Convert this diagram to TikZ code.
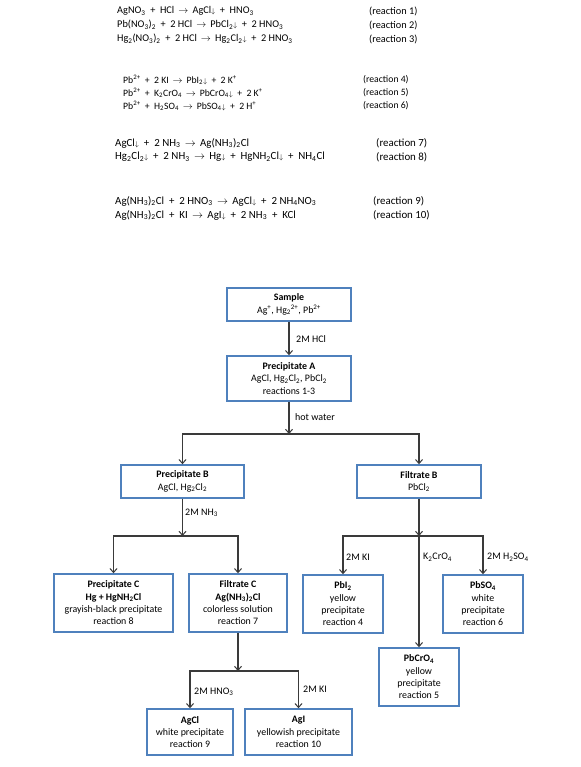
\documentclass[tikz,border=0pt]{standalone}
\usepackage{fontspec}
\setmainfont{Carlito}
\usetikzlibrary{arrows.meta}
\definecolor{boxblue}{HTML}{4F81BD}
\definecolor{linegray}{HTML}{3A3A3A}
\newcommand\chsub[1]{\textsubscript{#1}}
\newcommand\chsup[1]{\textsuperscript{#1}}
\newcommand\dn{{\scriptsize$\downarrow$}}
\newcommand\ra{\hspace{0.4em}$\rightarrow$\hspace{0.4em}}
\newcommand\pl{\hspace{0.45em}+\hspace{0.45em}}
\begin{document}
\begin{tikzpicture}[x=1pt,y=-1pt,
  rxn/.style={anchor=west,inner sep=0pt,font=\fontsize{10.3}{12}\selectfont},
  rxnb/.style={anchor=west,inner sep=0pt,font=\fontsize{9.7}{11}\selectfont},
  rxnc/.style={anchor=west,inner sep=0pt,font=\fontsize{10.9}{12}\selectfont},
  box/.style={draw=boxblue,line width=1.5pt,fill=white,align=center,inner sep=0pt,
    font=\fontsize{9.9}{12.3}\selectfont},
  conn/.style={draw=linegray,line width=1.2pt},
  arr/.style={conn,-{Straight Barb[length=4pt,width=7pt,line width=1pt]}},
  lbl/.style={anchor=west,inner sep=0pt,font=\fontsize{10}{12}\selectfont}]
\useasboundingbox (0,0) rectangle (580,767);

% reactions block 1
\node[rxn] (r1) at (117,11) {AgNO\chsub{3}\pl HCl\ra AgCl\dn\pl HNO\chsub{3}};
\node[rxn] (r2) at (117,25) {Pb(NO\chsub{3})\chsub{2}\pl 2 HCl\ra PbCl\chsub{2}\dn\pl 2 HNO\chsub{3}};
\node[rxn] (r3) at (117,39) {Hg\chsub{2}(NO\chsub{3})\chsub{2}\pl 2 HCl\ra Hg\chsub{2}Cl\chsub{2}\dn\pl 2 HNO\chsub{3}};
\node[rxn] (l1) at (369,11) {(reaction 1)};
\node[rxn] (l2) at (369,25) {(reaction 2)};
\node[rxn] (l3) at (369,39) {(reaction 3)};
% block 2
\node[rxnb] (r4) at (123,80) {Pb\chsup{2+}\pl 2 KI\ra PbI\chsub{2}\dn\pl 2 K\chsup{+}};
\node[rxnb] (r5) at (123,93) {Pb\chsup{2+}\pl K\chsub{2}CrO\chsub{4}\ra PbCrO\chsub{4}\dn\pl 2 K\chsup{+}};
\node[rxnb] (r6) at (123,106) {Pb\chsup{2+}\pl H\chsub{2}SO\chsub{4}\ra PbSO\chsub{4}\dn\pl 2 H\chsup{+}};
\node[rxnb] (l4) at (363,80) {(reaction 4)};
\node[rxnb] (l5) at (363,93) {(reaction 5)};
\node[rxnb] (l6) at (363,106) {(reaction 6)};
% block 3
\node[rxnc] (r7) at (115,143) {AgCl\dn\pl 2 NH\chsub{3}\ra Ag(NH\chsub{3})\chsub{2}Cl};
\node[rxnc] (r8) at (115,157) {Hg\chsub{2}Cl\chsub{2}\dn\pl 2 NH\chsub{3}\ra Hg\dn\pl HgNH\chsub{2}Cl\dn\pl NH\chsub{4}Cl};
\node[rxnc] (l7) at (376,143) {(reaction 7)};
\node[rxnc] (l8) at (376,157) {(reaction 8)};
% block 4
\node[rxnc] (r9) at (115,201) {Ag(NH\chsub{3})\chsub{2}Cl\pl 2 HNO\chsub{3}\ra AgCl\dn\pl 2 NH\chsub{4}NO\chsub{3}};
\node[rxnc] (r10) at (115,215) {Ag(NH\chsub{3})\chsub{2}Cl\pl KI\ra AgI\dn\pl 2 NH\chsub{3}\pl KCl};
\node[rxnc] (l9) at (373,201) {(reaction 9)};
\node[rxnc] (l10) at (373,215) {(reaction 10)};

% flowchart boxes
\node[box,minimum width=124pt,minimum height=33pt] (S) at (289,304.5) {\textbf{Sample}\\Ag\chsup{+}, Hg\chsub{2}\chsup{2+}, Pb\chsup{2+}};
\node[box,minimum width=124pt,minimum height=45pt] (A) at (289,378.5) {\textbf{Precipitate A}\\AgCl, Hg\chsub{2}Cl\chsub{2}, PbCl\chsub{2}\\reactions 1-3};
\node[box,minimum width=123pt,minimum height=33pt] (B) at (182.5,481.5) {\textbf{Precipitate B}\\AgCl, Hg\chsub{2}Cl\chsub{2}};
\node[box,minimum width=124pt,minimum height=33pt] (FB) at (419,481.5) {\textbf{Filtrate B}\\PbCl\chsub{2}};
\node[box,minimum width=119pt,minimum height=58pt] (C) at (113.5,603) {\textbf{Precipitate C}\\\textbf{Hg + HgNH\chsub{2}Cl}\\grayish-black precipitate\\reaction 8};
\node[box,minimum width=98pt,minimum height=58pt] (FC) at (238,603) {\textbf{Filtrate C}\\\textbf{Ag(NH\chsub{3})\chsub{2}Cl}\\colorless solution\\reaction 7};
\node[box,minimum width=80pt,minimum height=58pt] (PbI) at (343,604) {\textbf{PbI\chsub{2}}\\yellow\\precipitate\\reaction 4};
\node[box,minimum width=80pt,minimum height=58pt] (PbSO) at (483,604) {\textbf{PbSO\chsub{4}}\\white\\precipitate\\reaction 6};
\node[box,minimum width=80pt,minimum height=58pt] (PbCr) at (419,677) {\textbf{PbCrO\chsub{4}}\\yellow\\precipitate\\reaction 5};
\node[box,minimum width=86pt,minimum height=46pt] (AgCl) at (190,732) {\textbf{AgCl}\\white precipitate\\reaction 9};
\node[box,minimum width=107pt,minimum height=46pt] (AgI) at (298.5,732) {\textbf{AgI}\\yellowish precipitate\\reaction 10};

% junctions
\coordinate (jA) at (289,434);
\coordinate (jB) at (182.5,536);
\coordinate (jFB) at (419,536);
\coordinate (jFC) at (238,671);

% connectors
\draw[arr] (S) -- (A);
\draw[arr] (A) -- (jA);
\draw[arr] (jA) -| (B.north);
\draw[arr] (jA) -| (FB.north);
\draw[arr] (B) -- (jB);
\draw[arr] (jB) -| (C.north);
\draw[arr] (jB) -| (FC.north);
\draw[arr] (FB) -- (jFB);
\draw[arr] (jFB) -| (PbI.north);
\draw[arr] (jFB) -| (PbSO.north);
\draw[arr] (jFB) -- (PbCr.north);
\draw[arr] (FC) -- (jFC);
\draw[arr] (jFC) -| (AgCl.north);
\draw[arr] (jFC) -| (AgI.north);

% connector labels
\node[lbl] (t1) at (296,339) {2M HCl};
\node[lbl] (t2) at (295,417) {hot water};
\node[lbl] (t3) at (185,513) {2M NH\chsub{3}};
\node[lbl] (t4) at (346,557) {2M KI};
\node[lbl] (t5) at (423,557) {K\chsub{2}CrO\chsub{4}};
\node[lbl] (t6) at (487,557) {2M H\chsub{2}SO\chsub{4}};
\node[lbl] (t7) at (194,692) {2M HNO\chsub{3}};
\node[lbl] (t8) at (303,689) {2M KI};
\end{tikzpicture}
\end{document}
